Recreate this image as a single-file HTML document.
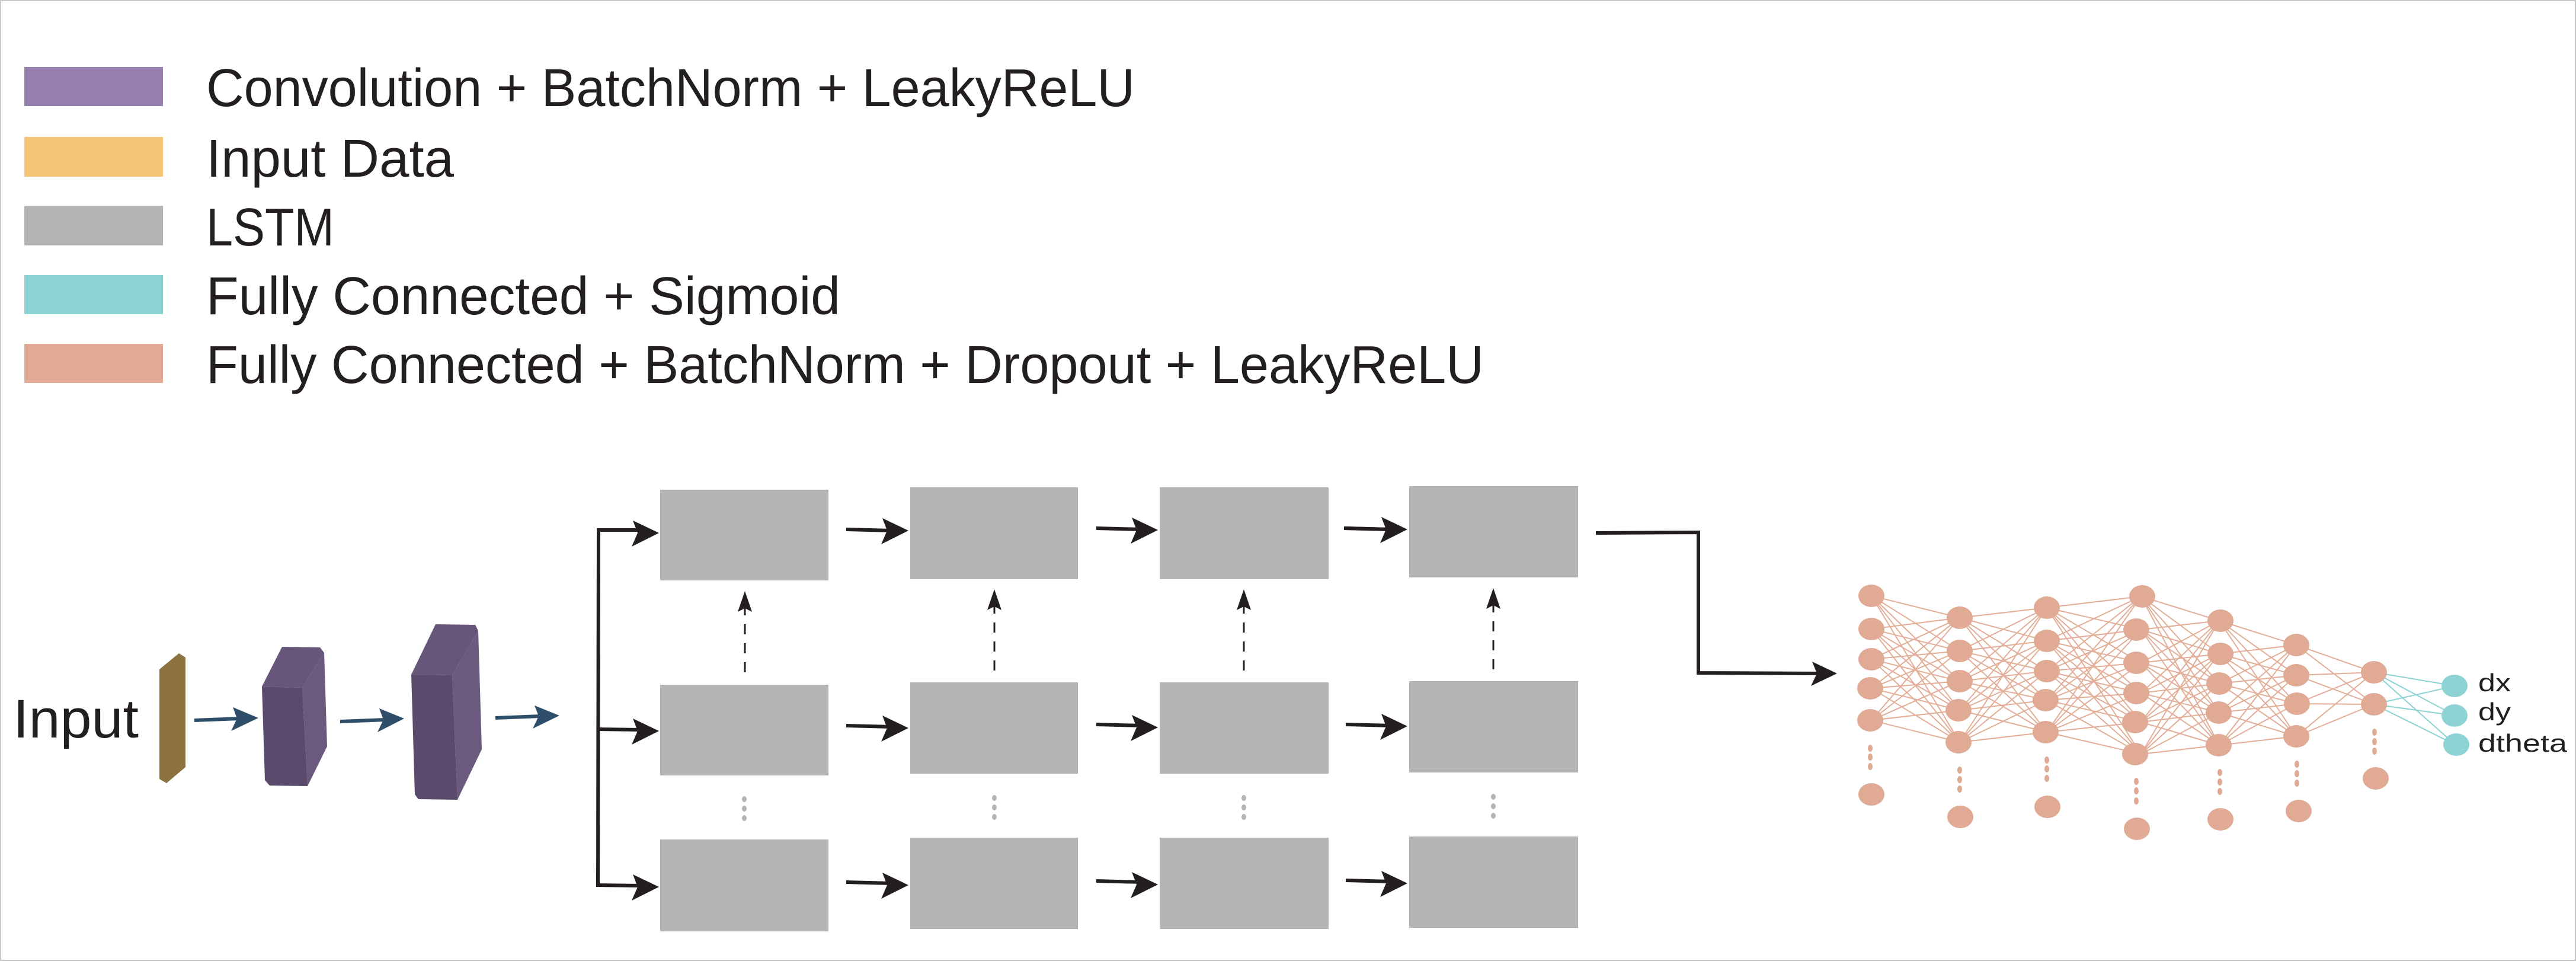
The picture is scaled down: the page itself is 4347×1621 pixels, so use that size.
<!DOCTYPE html>
<html><head><meta charset="utf-8"><style>
html,body{margin:0;padding:0;background:#fff}
svg{display:block}
text{font-family:"Liberation Sans",sans-serif;fill:#231f20}
</style></head><body>
<svg width="4347" height="1621" viewBox="0 0 4347 1621" xmlns="http://www.w3.org/2000/svg">
<rect x="1" y="1" width="4345" height="1619" fill="#fff" stroke="#c8c8c8" stroke-width="2"/>
<!-- legend -->
<rect x="41" y="113" width="234" height="66" fill="#967fad"/>
<rect x="41" y="231" width="234" height="67" fill="#f3c575"/>
<rect x="41" y="347" width="234" height="67" fill="#b3b4b6"/>
<rect x="41" y="464" width="234" height="66" fill="#8dd3d3"/>
<rect x="41" y="580" width="234" height="66" fill="#e0aa94"/>
<g font-size="90">
<text x="348" y="179" textLength="1567" lengthAdjust="spacingAndGlyphs">Convolution + BatchNorm + LeakyReLU</text>
<text x="348" y="298" textLength="418" lengthAdjust="spacingAndGlyphs">Input Data</text>
<text x="348" y="414" textLength="216" lengthAdjust="spacingAndGlyphs">LSTM</text>
<text x="348" y="530" textLength="1070" lengthAdjust="spacingAndGlyphs">Fully Connected + Sigmoid</text>
<text x="348" y="646" textLength="2156" lengthAdjust="spacingAndGlyphs">Fully Connected + BatchNorm + Dropout + LeakyReLU</text>
</g>
<!-- input -->
<text x="22" y="1244" font-size="92" textLength="212" lengthAdjust="spacingAndGlyphs">Input</text>
<polygon points="269,1129 302,1102 313,1109 313,1294 281,1321 269,1314" fill="#8b723f"/>
<polygon points="442,1158 476,1091 540,1092 547,1101 510,1160" fill="#66577a"/>
<polygon points="510,1160 547,1101 552,1259 519,1326" fill="#6a5a7e"/>
<polygon points="442,1158 510,1160 519,1326 455,1325 447,1316" fill="#5a4a6b"/>
<polygon points="694,1138 735,1053 802,1054 807,1064 763,1139" fill="#66577a"/>
<polygon points="763,1139 807,1064 813,1264 772,1349" fill="#6a5a7e"/>
<polygon points="694,1138 763,1139 772,1349 706,1348 700,1340" fill="#5a4a6b"/>
<g stroke="#2e4e69" stroke-width="6" fill="#2e4e69">
<line x1="328" y1="1215" x2="405" y2="1212"/>
<polygon points="436,1211 393,1193 400,1212 390,1233" stroke="none"/>
<line x1="574" y1="1217" x2="651" y2="1214"/>
<polygon points="682,1212 640,1195 647,1214 637,1235" stroke="none"/>
<line x1="836" y1="1211" x2="913" y2="1208"/>
<polygon points="944,1207 902,1190 909,1208 899,1229" stroke="none"/>
</g>
<!-- LSTM boxes -->
<g fill="#b3b4b6">
<rect x="1114" y="826" width="284" height="153"/>
<rect x="1536" y="822" width="283" height="155"/>
<rect x="1957" y="822" width="285" height="155"/>
<rect x="2378" y="820" width="285" height="154"/>
<rect x="1114" y="1155" width="284" height="153"/>
<rect x="1536" y="1151" width="283" height="154"/>
<rect x="1957" y="1151" width="285" height="154"/>
<rect x="2378" y="1149" width="285" height="154"/>
<rect x="1114" y="1416" width="284" height="155"/>
<rect x="1536" y="1413" width="283" height="154"/>
<rect x="1957" y="1413" width="285" height="154"/>
<rect x="2378" y="1411" width="285" height="154"/>
</g>
<g fill="#b3b4b6">
<ellipse cx="1256" cy="1348" rx="4" ry="5"/><ellipse cx="1256" cy="1364" rx="4" ry="5"/><ellipse cx="1256" cy="1380" rx="4" ry="5"/>
<ellipse cx="1678" cy="1346" rx="4" ry="5"/><ellipse cx="1678" cy="1362" rx="4" ry="5"/><ellipse cx="1678" cy="1378" rx="4" ry="5"/>
<ellipse cx="2099" cy="1346" rx="4" ry="5"/><ellipse cx="2099" cy="1362" rx="4" ry="5"/><ellipse cx="2099" cy="1378" rx="4" ry="5"/>
<ellipse cx="2520" cy="1344" rx="4" ry="5"/><ellipse cx="2520" cy="1360" rx="4" ry="5"/><ellipse cx="2520" cy="1376" rx="4" ry="5"/>
</g>
<!-- black connectors -->
<g stroke="#231f20" stroke-width="6" fill="none">
<polyline points="1083,894 1010,894 1009,1493 1083,1494"/>
<line x1="1010" y1="1230" x2="1083" y2="1231"/>
<line x1="1428" y1="893" x2="1505" y2="895"/><line x1="1850" y1="891" x2="1927" y2="893"/>
<line x1="2271" y1="891" x2="2348" y2="893"/><line x1="2268" y1="891" x2="2345" y2="893"/>
<line x1="1428" y1="1224" x2="1505" y2="1226"/><line x1="1850" y1="1222" x2="1927" y2="1224"/>
<line x1="2271" y1="1222" x2="2348" y2="1224"/>
<line x1="1428" y1="1488" x2="1505" y2="1490"/><line x1="1850" y1="1486" x2="1927" y2="1488"/>
<line x1="2271" y1="1485" x2="2348" y2="1487"/>
<polyline points="2693,899 2866,898 2866,1135 3075,1136"/>
</g>
<g fill="#231f20">
<polygon points="1112,899 1068,878 1076,899 1066,922"/>
<polygon points="1112,1233 1068,1212 1076,1233 1066,1256"/>
<polygon points="1112,1496 1068,1475 1076,1496 1066,1519"/>
<polygon points="1533,895 1489,874 1497,895 1487,918"/>
<polygon points="1954,894 1910,873 1918,894 1908,917"/>
<polygon points="2375,893 2331,872 2339,893 2329,916"/>
<polygon points="1533,1228 1489,1207 1497,1228 1487,1251"/>
<polygon points="1954,1227 1910,1206 1918,1227 1908,1250"/>
<polygon points="2375,1225 2331,1204 2339,1225 2329,1248"/>
<polygon points="1533,1493 1489,1472 1497,1493 1487,1516"/>
<polygon points="1954,1492 1910,1471 1918,1492 1908,1515"/>
<polygon points="2375,1490 2331,1469 2339,1490 2329,1513"/>
<polygon points="3100,1136 3058,1116 3066,1136 3056,1157"/>
</g>
<!-- dashed vertical arrows -->
<g stroke="#231f20" stroke-width="3" stroke-dasharray="17,15">
<line x1="1257" y1="1134" x2="1257" y2="1026"/>
<line x1="1678" y1="1131" x2="1678" y2="1023"/>
<line x1="2099" y1="1131" x2="2099" y2="1023"/>
<line x1="2520" y1="1129" x2="2520" y2="1021"/>
</g>
<g fill="#231f20">
<polygon points="1257,997 1245,1032 1257,1026 1269,1032"/>
<polygon points="1678,994 1666,1029 1678,1023 1690,1029"/>
<polygon points="2099,994 2087,1029 2099,1023 2111,1029"/>
<polygon points="2520,992 2508,1027 2520,1021 2532,1027"/>
</g>
<!-- neural net connections -->
<g stroke="#e3ae98" stroke-width="2" fill="none">
<path d="M3158 1005L3307 1042M3158 1005L3307 1098M3158 1005L3307 1149M3158 1005L3307 1198M3158 1005L3307 1252
M3158 1061L3307 1042M3158 1061L3307 1098M3158 1061L3307 1149M3158 1061L3307 1198M3158 1061L3307 1252
M3158 1112L3307 1042M3158 1112L3307 1098M3158 1112L3307 1149M3158 1112L3307 1198M3158 1112L3307 1252
M3158 1161L3307 1042M3158 1161L3307 1098M3158 1161L3307 1149M3158 1161L3307 1198M3158 1161L3307 1252
M3158 1215L3307 1042M3158 1215L3307 1098M3158 1215L3307 1149M3158 1215L3307 1198M3158 1215L3307 1252"/>
<path d="M3307 1042L3454 1025M3307 1042L3454 1081M3307 1042L3454 1132M3307 1042L3454 1181M3307 1042L3454 1235
M3307 1098L3454 1025M3307 1098L3454 1081M3307 1098L3454 1132M3307 1098L3454 1181M3307 1098L3454 1235
M3307 1149L3454 1025M3307 1149L3454 1081M3307 1149L3454 1132M3307 1149L3454 1181M3307 1149L3454 1235
M3307 1198L3454 1025M3307 1198L3454 1081M3307 1198L3454 1132M3307 1198L3454 1181M3307 1198L3454 1235
M3307 1252L3454 1025M3307 1252L3454 1081M3307 1252L3454 1132M3307 1252L3454 1181M3307 1252L3454 1235"/>
<path d="M3454 1025L3613 1006M3454 1025L3613 1062M3454 1025L3613 1118M3454 1025L3613 1169M3454 1025L3613 1218M3454 1025L3613 1272
M3454 1081L3613 1006M3454 1081L3613 1062M3454 1081L3613 1118M3454 1081L3613 1169M3454 1081L3613 1218M3454 1081L3613 1272
M3454 1132L3613 1006M3454 1132L3613 1062M3454 1132L3613 1118M3454 1132L3613 1169M3454 1132L3613 1218M3454 1132L3613 1272
M3454 1181L3613 1006M3454 1181L3613 1062M3454 1181L3613 1118M3454 1181L3613 1169M3454 1181L3613 1218M3454 1181L3613 1272
M3454 1235L3613 1006M3454 1235L3613 1062M3454 1235L3613 1118M3454 1235L3613 1169M3454 1235L3613 1218M3454 1235L3613 1272"/>
<path d="M3613 1006L3745 1047M3613 1006L3745 1103M3613 1006L3745 1153M3613 1006L3745 1202M3613 1006L3745 1257
M3613 1062L3745 1047M3613 1062L3745 1103M3613 1062L3745 1153M3613 1062L3745 1202M3613 1062L3745 1257
M3613 1118L3745 1047M3613 1118L3745 1103M3613 1118L3745 1153M3613 1118L3745 1202M3613 1118L3745 1257
M3613 1169L3745 1047M3613 1169L3745 1103M3613 1169L3745 1153M3613 1169L3745 1202M3613 1169L3745 1257
M3613 1218L3745 1047M3613 1218L3745 1103M3613 1218L3745 1153M3613 1218L3745 1202M3613 1218L3745 1257
M3613 1272L3745 1047M3613 1272L3745 1103M3613 1272L3745 1153M3613 1272L3745 1202M3613 1272L3745 1257"/>
<path d="M3745 1047L3875 1088M3745 1047L3875 1139M3745 1047L3875 1187M3745 1047L3875 1242
M3745 1103L3875 1088M3745 1103L3875 1139M3745 1103L3875 1187M3745 1103L3875 1242
M3745 1153L3875 1088M3745 1153L3875 1139M3745 1153L3875 1187M3745 1153L3875 1242
M3745 1202L3875 1088M3745 1202L3875 1139M3745 1202L3875 1187M3745 1202L3875 1242
M3745 1257L3875 1088M3745 1257L3875 1139M3745 1257L3875 1187M3745 1257L3875 1242"/>
<path d="M3875 1088L4006 1134M3875 1088L4006 1188M3875 1139L4006 1134M3875 1139L4006 1188
M3875 1187L4006 1134M3875 1187L4006 1188M3875 1242L4006 1134M3875 1242L4006 1188"/>
</g>
<g stroke="#8dd3d3" stroke-width="2">
<path d="M4006 1134L4143 1157M4006 1134L4143 1207M4006 1134L4143 1256M4006 1188L4143 1157M4006 1188L4143 1207M4006 1188L4143 1256"/>
</g>
<g fill="#e0aa94">
<ellipse cx="3158" cy="1005" rx="22" ry="19"/><ellipse cx="3158" cy="1061" rx="22" ry="19"/><ellipse cx="3158" cy="1112" rx="22" ry="19"/><ellipse cx="3156" cy="1161" rx="22" ry="19"/><ellipse cx="3156" cy="1215" rx="22" ry="19"/>
<ellipse cx="3158" cy="1340" rx="22" ry="19"/>
<ellipse cx="3307" cy="1042" rx="22" ry="19"/><ellipse cx="3307" cy="1098" rx="22" ry="19"/><ellipse cx="3307" cy="1149" rx="22" ry="19"/><ellipse cx="3305" cy="1198" rx="22" ry="19"/><ellipse cx="3305" cy="1252" rx="22" ry="19"/>
<ellipse cx="3308" cy="1378" rx="22" ry="19"/>
<ellipse cx="3454" cy="1025" rx="22" ry="19"/><ellipse cx="3454" cy="1081" rx="22" ry="19"/><ellipse cx="3454" cy="1132" rx="22" ry="19"/><ellipse cx="3452" cy="1181" rx="22" ry="19"/><ellipse cx="3452" cy="1235" rx="22" ry="19"/>
<ellipse cx="3455" cy="1361" rx="22" ry="19"/>
<ellipse cx="3615" cy="1006" rx="22" ry="19"/><ellipse cx="3605" cy="1062" rx="22" ry="19"/><ellipse cx="3605" cy="1118" rx="22" ry="19"/><ellipse cx="3605" cy="1169" rx="22" ry="19"/><ellipse cx="3603" cy="1218" rx="22" ry="19"/><ellipse cx="3603" cy="1272" rx="22" ry="19"/>
<ellipse cx="3606" cy="1398" rx="22" ry="19"/>
<ellipse cx="3747" cy="1047" rx="22" ry="19"/><ellipse cx="3747" cy="1103" rx="22" ry="19"/><ellipse cx="3745" cy="1153" rx="22" ry="19"/><ellipse cx="3744" cy="1202" rx="22" ry="19"/><ellipse cx="3744" cy="1257" rx="22" ry="19"/>
<ellipse cx="3747" cy="1382" rx="22" ry="19"/>
<ellipse cx="3875" cy="1088" rx="22" ry="19"/><ellipse cx="3875" cy="1139" rx="22" ry="19"/><ellipse cx="3876" cy="1187" rx="22" ry="19"/><ellipse cx="3875" cy="1242" rx="22" ry="19"/>
<ellipse cx="3879" cy="1368" rx="22" ry="19"/>
<ellipse cx="4006" cy="1134" rx="22" ry="19"/><ellipse cx="4006" cy="1188" rx="22" ry="19"/>
<ellipse cx="4009" cy="1313" rx="22" ry="19"/>
<ellipse cx="3156" cy="1262" rx="4" ry="6"/><ellipse cx="3156" cy="1277" rx="4" ry="6"/><ellipse cx="3156" cy="1293" rx="4" ry="6"/>
<ellipse cx="3307" cy="1299" rx="4" ry="6"/><ellipse cx="3307" cy="1315" rx="4" ry="6"/><ellipse cx="3307" cy="1331" rx="4" ry="6"/>
<ellipse cx="3454" cy="1282" rx="4" ry="6"/><ellipse cx="3454" cy="1297" rx="4" ry="6"/><ellipse cx="3454" cy="1313" rx="4" ry="6"/>
<ellipse cx="3605" cy="1318" rx="4" ry="6"/><ellipse cx="3605" cy="1334" rx="4" ry="6"/><ellipse cx="3605" cy="1351" rx="4" ry="6"/>
<ellipse cx="3746" cy="1303" rx="4" ry="6"/><ellipse cx="3746" cy="1319" rx="4" ry="6"/><ellipse cx="3746" cy="1335" rx="4" ry="6"/>
<ellipse cx="3876" cy="1289" rx="4" ry="6"/><ellipse cx="3876" cy="1305" rx="4" ry="6"/><ellipse cx="3876" cy="1321" rx="4" ry="6"/>
<ellipse cx="4007" cy="1235" rx="4" ry="6"/><ellipse cx="4007" cy="1251" rx="4" ry="6"/><ellipse cx="4007" cy="1267" rx="4" ry="6"/>
</g>
<g fill="#8dd3d3">
<ellipse cx="4142" cy="1157" rx="22" ry="19"/><ellipse cx="4142" cy="1207" rx="22" ry="19"/><ellipse cx="4145" cy="1256" rx="22" ry="19"/>
</g>
<g font-size="42">
<text x="4182" y="1166" textLength="55" lengthAdjust="spacingAndGlyphs">dx</text>
<text x="4182" y="1215" textLength="55" lengthAdjust="spacingAndGlyphs">dy</text>
<text x="4182" y="1268" textLength="150" lengthAdjust="spacingAndGlyphs">dtheta</text>
</g>
</svg>
</body></html>
